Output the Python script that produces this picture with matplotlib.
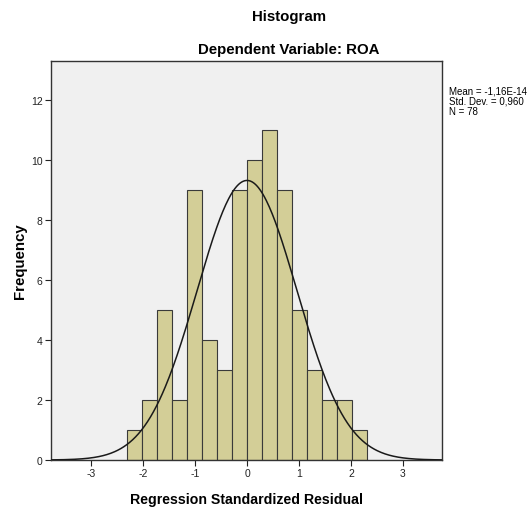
import numpy as np
import matplotlib
matplotlib.use("Agg")
import matplotlib.pyplot as plt

counts = [1, 2, 5, 2, 9, 4, 3, 9, 10, 11, 9, 5, 3, 2, 2, 1]
bin_start = -2.3
bin_width = 0.2875
mean = -1.16e-14
sd = 0.960
n = 78
xticks = [-3, -2, -1, 0, 1, 2, 3]
yticks = [0, 2, 4, 6, 8, 10, 12]

plt.rcParams['font.family'] = ['Liberation Sans', 'DejaVu Sans']

fig = plt.figure(figsize=(5.29, 5.10), dpi=100)
ax = fig.add_axes([51/529, 1-461/510, (442-51)/529, (461-62)/510])
ax.set_facecolor('#F0F0F0')

edges = bin_start + bin_width*np.arange(len(counts))
ax.bar(edges, counts, width=bin_width, align='edge', color='#D3CE97',
       edgecolor='#3a3a3a', linewidth=0.8, zorder=2)

xs = np.linspace(-3.8, 3.8, 400)
ys = n*bin_width/(sd*np.sqrt(2*np.pi))*np.exp(-0.5*((xs-mean)/sd)**2)
ax.plot(xs, ys, color='#1a1a1a', linewidth=1.1, zorder=3)

ax.set_xlim(-3.77, 3.75)
ax.set_ylim(0, 13.3)
ax.set_xticks(xticks)
ax.set_xticklabels([str(t) for t in xticks])
ax.set_yticks(yticks)
ax.tick_params(labelsize=7.5, length=4, width=0.8, colors='#222222', pad=2)
for s in ax.spines.values():
    s.set_linewidth(1.0)
    s.set_color('#333333')

ax.set_xlabel('Regression Standardized Residual', fontsize=10.2, fontweight='bold', labelpad=10)
ax.set_ylabel('Frequency', fontsize=10.8, fontweight='bold', labelpad=3)

fig.text(289/529, 1-17/510, 'Histogram', ha='center', va='center', fontsize=10.8, fontweight='bold')
fig.text(289/529, 1-50/510, 'Dependent Variable: ROA', ha='center', va='center', fontsize=10.8, fontweight='bold')

fig.text(449/529, 1-86/510, 'Mean = -1,16E-14\nStd. Dev. = 0,960\nN = 78',
         ha='left', va='top', fontsize=7.0, linespacing=1.05)

fig.savefig('out.png', dpi=100, facecolor='white')
